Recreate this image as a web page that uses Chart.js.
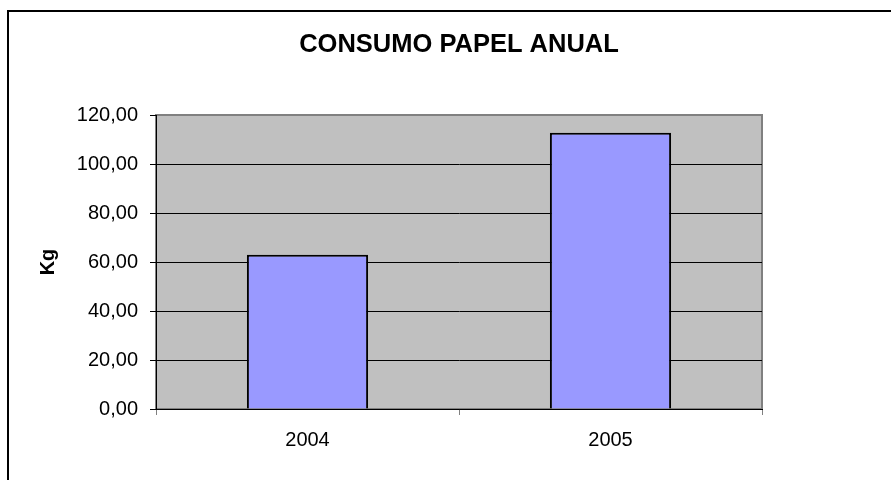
<!DOCTYPE html>
<html>
<head>
<meta charset="utf-8">
<script src="https://cdn.jsdelivr.net/npm/chart.js@4/dist/chart.umd.min.js"></script>
<style>
  html, body { margin: 0; padding: 0; background: #fff; }
  #wrap { width: 891px; height: 480px; }
</style>
</head>
<body>
<div id="wrap"><canvas id="grafico" width="891" height="480"></canvas></div>
<script>
// Dados
const anos = ["2004", "2005"];
const consumoKg = [63.0, 112.8];
const eixoY = { min: 0, max: 120, passo: 20 };

const fonte = "'Liberation Sans', Arial, sans-serif";

// Fundo cinza da área do gráfico e moldura externa
const fundoPlugin = {
    id: 'fundo',
    beforeDraw(chart) {
        const { ctx, chartArea: a } = chart;
        ctx.save();
        ctx.fillStyle = '#C0C0C0';
        ctx.fillRect(a.left, a.top, a.right - a.left, a.bottom - a.top);
        ctx.strokeStyle = '#808080';
        ctx.lineWidth = 2;
        ctx.strokeRect(a.left, a.top, a.right - a.left, a.bottom - a.top);
        // moldura externa
        ctx.strokeStyle = '#000';
        ctx.lineWidth = 2;
        ctx.beginPath();
        ctx.moveTo(8, chart.height);
        ctx.lineTo(8, 11);
        ctx.lineTo(chart.width, 11);
        ctx.stroke();
        ctx.restore();
    }
};

new Chart(document.getElementById('grafico').getContext('2d'), {
    type: 'bar',
    data: {
        labels: anos,
        datasets: [{
            label: 'Consumo',
            data: consumoKg,
            backgroundColor: '#9999FF',
            borderColor: '#000',
            borderWidth: 2,
            barPercentage: 0.4,
            categoryPercentage: 1.0
        }]
    },
    options: {
        responsive: false,
        animation: false,
        layout: { padding: { left: 0, right: 129, top: 0, bottom: 0 } },
        plugins: {
            legend: { display: false },
            tooltip: { enabled: false },
            title: {
                display: true,
                fullSize: false,
                text: 'CONSUMO PAPEL ANUAL',
                color: '#000',
                font: { family: fonte, size: 25.5, weight: 'bold', lineHeight: 1.2 },
                padding: { top: 30, bottom: 54.4 }
            }
        },
        scales: {
            x: {
                afterFit(s) { s.height = 71; },
                grid: {
                    offset: true,
                    drawOnChartArea: false,
                    color: '#808080',
                    tickLength: 6
                },
                border: { display: true, color: '#000', width: 1 },
                ticks: {
                    color: '#000',
                    padding: 13,
                    font: { family: fonte, size: 20 }
                }
            },
            y: {
                min: eixoY.min,
                max: eixoY.max,
                afterFit(s) { s.width = 156; },
                grid: {
                    color: c => (c.tick && c.tick.value === eixoY.max) ? '#808080' : '#000',
                    tickColor: '#000',
                    tickLength: 6,
                    lineWidth: 1
                },
                border: { display: true, color: '#000', width: 1 },
                ticks: {
                    stepSize: eixoY.passo,
                    color: '#000',
                    padding: 12,
                    font: { family: fonte, size: 20 },
                    callback: v => v.toFixed(2).replace('.', ',')
                },
                title: {
                    display: true,
                    text: 'Kg',
                    color: '#000',
                    font: { family: fonte, size: 20, weight: 'bold', lineHeight: 1.2 },
                    padding: { top: 36, bottom: 0 }
                }
            }
        }
    },
    plugins: [fundoPlugin]
});
</script>
</body>
</html>
